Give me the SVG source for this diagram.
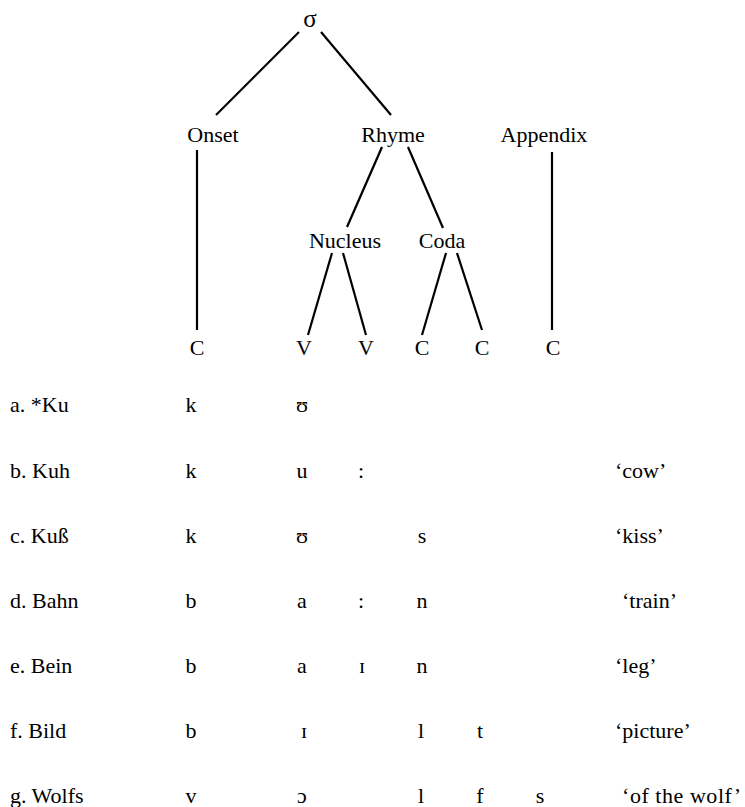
<svg xmlns="http://www.w3.org/2000/svg" width="745" height="807" viewBox="0 0 745 807">
<style>
text{font-family:"Liberation Serif","Times New Roman",serif;font-size:22px;fill:#000}
.m{text-anchor:middle}
.e line{stroke:#000;stroke-width:2.2;stroke-linecap:butt}
</style>
<rect width="745" height="807" fill="#fff"/>
<g class="e" id="connectors">
<line x1="299" y1="32" x2="216" y2="115"/>
<line x1="321" y1="32" x2="391" y2="115"/>
<line x1="197" y1="150" x2="197" y2="330"/>
<line x1="382" y1="147" x2="347" y2="227"/>
<line x1="408" y1="147" x2="443" y2="228"/>
<line x1="552" y1="152" x2="552" y2="330"/>
<line x1="332" y1="253" x2="308" y2="335"/>
<line x1="343" y1="253" x2="366" y2="335"/>
<line x1="446" y1="253" x2="422" y2="335"/>
<line x1="457" y1="253" x2="482" y2="330"/>
</g>
<g id="sigma"><text class="m" x="310" y="27" style="font-size:25px">σ</text></g>
<g id="onset"><text class="m" x="213" y="142">Onset</text></g>
<g id="rhyme"><text class="m" x="393" y="142">Rhyme</text></g>
<g id="appendix"><text class="m" x="544" y="142">Appendix</text></g>
<g id="nucleus"><text class="m" x="345" y="248">Nucleus</text></g>
<g id="coda"><text class="m" x="442" y="248">Coda</text></g>
<g id="c-onset"><text class="m" x="197" y="355">C</text></g>
<g id="v1"><text class="m" x="304" y="355">V</text></g>
<g id="v2"><text class="m" x="366" y="355">V</text></g>
<g id="c-coda1"><text class="m" x="422" y="355">C</text></g>
<g id="c-coda2"><text class="m" x="482" y="355">C</text></g>
<g id="c-app"><text class="m" x="553" y="355">C</text></g>
<g id="rows">
<text x="10" y="412">a. *Ku</text>
<text class="m" x="191" y="412">k</text>
<text class="m" x="302" y="412">ʊ</text>

<text x="10" y="478">b. Kuh</text>
<text class="m" x="191" y="478">k</text>
<text class="m" x="302" y="478">u</text>
<text class="m" x="361" y="478">:</text>
<text x="615" y="478">‘cow’</text>

<text x="10" y="543">c. Kuß</text>
<text class="m" x="191" y="543">k</text>
<text class="m" x="302" y="543">ʊ</text>
<text class="m" x="422" y="543">s</text>
<text x="615" y="543">‘kiss’</text>

<text x="10" y="608">d. Bahn</text>
<text class="m" x="191" y="608">b</text>
<text class="m" x="302" y="608">a</text>
<text class="m" x="361" y="608">:</text>
<text class="m" x="422" y="608">n</text>
<text x="622" y="608">‘train’</text>

<text x="10" y="673">e. Bein</text>
<text class="m" x="191" y="673">b</text>
<text class="m" x="302" y="673">a</text>
<text class="m" x="362" y="673">ɪ</text>
<text class="m" x="422" y="673">n</text>
<text x="615" y="673">‘leg’</text>

<text x="10" y="738">f. Bild</text>
<text class="m" x="191" y="738">b</text>
<text class="m" x="304" y="738">ɪ</text>
<text class="m" x="421" y="738">l</text>
<text class="m" x="480" y="738">t</text>
<text x="615" y="738">‘picture’</text>

<text x="10" y="803">g. Wolfs</text>
<text class="m" x="191" y="803">v</text>
<text class="m" x="302" y="803">ɔ</text>
<text class="m" x="421" y="803">l</text>
<text class="m" x="480" y="803">f</text>
<text class="m" x="540" y="803">s</text>
<text x="622" y="803" textLength="119">‘of the wolf’</text>
</g>
</svg>
